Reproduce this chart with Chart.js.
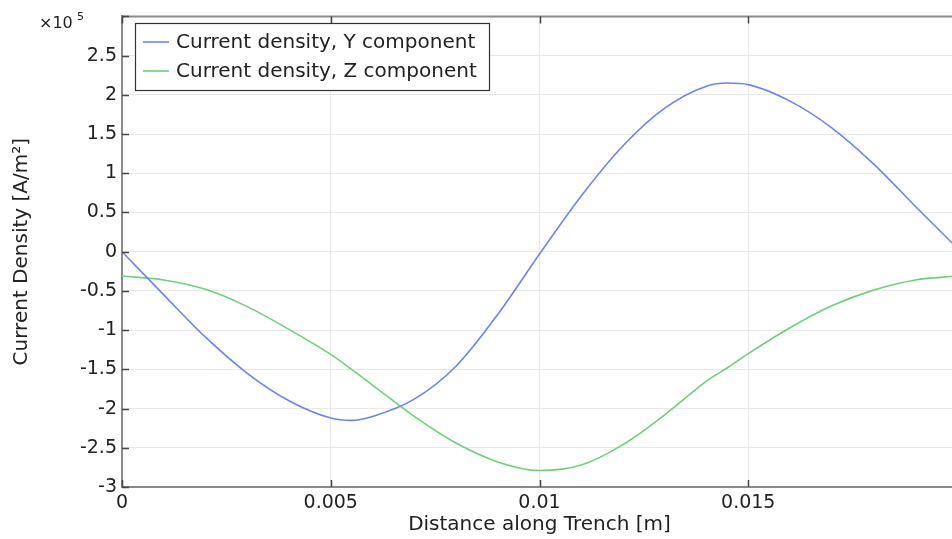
<!DOCTYPE html>
<html>
<head>
<meta charset="utf-8">
<script src="https://cdn.jsdelivr.net/npm/chart.js@4/dist/chart.umd.min.js"></script>
<style>
  html, body { margin: 0; padding: 0; background: #fff; overflow: hidden; }
  #wrap { width: 957px; height: 539px; position: relative; }
</style>
</head>
<body>
<div id="wrap"><canvas id="trenchChart"></canvas></div>
<script>
// distance along trench [m]
const distance = [0, 0.001, 0.002, 0.003, 0.004, 0.005, 0.0055, 0.006, 0.007, 0.008, 0.009, 0.010,
  0.011, 0.012, 0.013, 0.014, 0.0145, 0.015, 0.016, 0.017, 0.018, 0.019, 0.020];
// current density, units of 1e5 A/m^2
const currentY = [0, -0.55, -1.09, -1.55, -1.90, -2.12, -2.15, -2.10, -1.88, -1.46, -0.80, -0.03,
  0.71, 1.35, 1.83, 2.11, 2.15, 2.13, 1.92, 1.58, 1.12, 0.58, 0.05];
const currentZ = [-0.31, -0.36, -0.48, -0.70, -0.99, -1.31, -1.50, -1.70, -2.10, -2.44, -2.68, -2.79,
  -2.72, -2.46, -2.08, -1.65, -1.48, -1.30, -0.97, -0.69, -0.49, -0.36, -0.31];
const seriesLabels = ['Current density, Y component', 'Current density, Z component'];
const seriesColors = ['#6b84f5', '#6fcf7b'];
const xTicks = [0, 0.005, 0.01, 0.015, 0.02];
const yTicks = [-3, -2.5, -2, -1.5, -1, -0.5, 0, 0.5, 1, 1.5, 2, 2.5, 3];

const FONT = "'DejaVu Sans', sans-serif";
const toXY = vals => vals.map((v, i) => ({ x: distance[i], y: v }));

// inward ticks, top frame line, exponent label and boxed legend
const decorations = {
  id: 'decorations',
  afterDraw(chart) {
    const { ctx, chartArea: a, scales: { x, y } } = chart;
    ctx.save();
    ctx.strokeStyle = '#8a8a8a';
    ctx.lineWidth = 2;
    ctx.beginPath();
    ctx.moveTo(a.left, a.top);
    ctx.lineTo(a.right, a.top);
    ctx.stroke();

    ctx.strokeStyle = '#444';
    ctx.lineWidth = 1.5;
    ctx.beginPath();
    yTicks.forEach(v => {
      const py = Math.round(y.getPixelForValue(v)) + 0.5;
      ctx.moveTo(a.left, py);
      ctx.lineTo(a.left + 7, py);
    });
    xTicks.forEach(v => {
      const px = Math.round(x.getPixelForValue(v)) + 0.5;
      ctx.moveTo(px, a.bottom);
      ctx.lineTo(px, a.bottom - 7);
      ctx.moveTo(px, a.top);
      ctx.lineTo(px, a.top + 7);
    });
    ctx.stroke();

    // x10^5
    ctx.fillStyle = '#222';
    ctx.textBaseline = 'alphabetic';
    ctx.textAlign = 'left';
    ctx.font = '16px ' + FONT;
    ctx.fillText('\u00d710', 39, 28);
    ctx.font = '11px ' + FONT;
    ctx.fillText('5', 77, 20);

    // legend
    const lx = 135, ly = 23, lw = 354, lh = 67;
    ctx.fillStyle = '#fff';
    ctx.fillRect(lx, ly, lw, lh);
    ctx.strokeStyle = '#333';
    ctx.lineWidth = 1.2;
    ctx.strokeRect(lx + 0.5, ly + 0.5, lw, lh);
    ctx.font = '20px ' + FONT;
    ctx.textBaseline = 'middle';
    chart.data.datasets.forEach((ds, i) => {
      const cy = 42 + i * 29;
      ctx.strokeStyle = ds.borderColor;
      ctx.lineWidth = 1.6;
      ctx.beginPath();
      ctx.moveTo(143, cy);
      ctx.lineTo(169, cy);
      ctx.stroke();
      ctx.fillStyle = '#222';
      ctx.fillText(ds.label, 176, cy + 1);
    });
    ctx.restore();
  }
};

new Chart(document.getElementById('trenchChart'), {
  type: 'line',
  data: {
    datasets: [
      {
        label: seriesLabels[0],
        data: toXY(currentY),
        borderColor: seriesColors[0],
        borderWidth: 1.6,
        pointRadius: 0,
        cubicInterpolationMode: 'monotone',
        fill: false
      },
      {
        label: seriesLabels[1],
        data: toXY(currentZ),
        borderColor: seriesColors[1],
        borderWidth: 1.6,
        pointRadius: 0,
        cubicInterpolationMode: 'monotone',
        fill: false
      }
    ]
  },
  options: {
    responsive: true,
    maintainAspectRatio: false,
    animation: false,
    layout: { padding: { top: 12, left: 0, right: 0, bottom: 0 } },
    plugins: {
      legend: { display: false },
      tooltip: { enabled: false }
    },
    scales: {
      x: {
        type: 'linear',
        min: 0,
        max: 0.02,
        afterBuildTicks: s => { s.ticks = xTicks.map(v => ({ value: v })); },
        afterFit: s => { s.height = 52; s.paddingRight = 0; },
        ticks: {
          color: '#222',
          font: { family: FONT, size: 19 },
          padding: 5,
          maxRotation: 0,
          callback: v => (v >= 0.02 ? '' : String(Number(v.toFixed(3))))
        },
        grid: { color: '#e8e8e8', lineWidth: 1, drawTicks: false },
        border: { display: true, color: '#8a8a8a', width: 2 },
        title: {
          display: true,
          text: 'Distance along Trench [m]',
          color: '#222',
          font: { family: FONT, size: 20 },
          padding: { top: 0, bottom: 2 }
        }
      },
      y: {
        min: -3,
        max: 3,
        afterBuildTicks: s => { s.ticks = yTicks.map(v => ({ value: v })); },
        afterFit: s => { s.width = 122; },
        ticks: {
          color: '#222',
          font: { family: FONT, size: 19 },
          padding: 5,
          callback: v => (v === 3 ? '' : String(v))
        },
        grid: { color: '#e8e8e8', lineWidth: 1, drawTicks: false },
        border: { display: true, color: '#8a8a8a', width: 2 },
        title: {
          display: true,
          text: 'Current Density [A/m\u00b2]',
          color: '#222',
          font: { family: FONT, size: 20 },
          padding: { top: 10, bottom: 0 }
        }
      }
    }
  },
  plugins: [decorations]
});
</script>
</body>
</html>
